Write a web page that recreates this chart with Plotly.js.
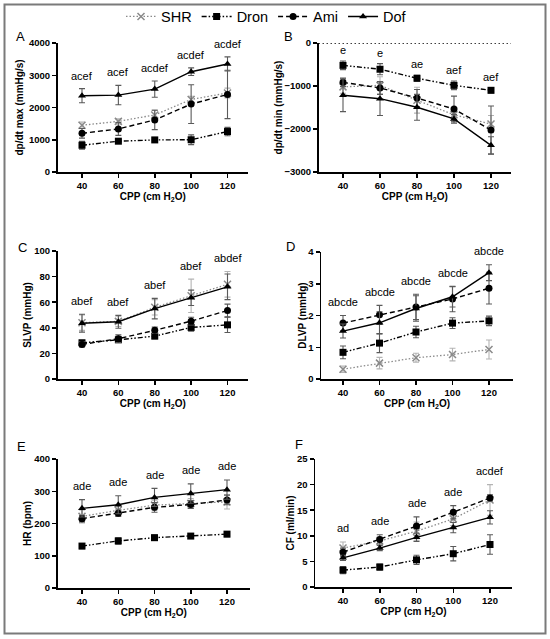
<!DOCTYPE html>
<html>
<head>
<meta charset="utf-8">
<script src="https://cdn.plot.ly/plotly-3.0.1.min.js"></script>
<style>html,body{margin:0;padding:0;background:#fff;}#chart{width:550px;height:639px;}</style>
</head>
<body>
<div id="chart"></div>
<script>
// ---------------- DATA ----------------
const cpp = [40, 60, 80, 100, 120];
const seriesNames = ['SHR', 'Dron', 'Ami', 'Dof'];

// A: dp/dt max (mmHg/s)
const maxSHR = [1450, 1570, 1770, 2250, 2450];
const maxSHRErr = [100, 80, 150, 100, 150];
const maxDron = [830, 955, 995, 1000, 1255];
const maxDronErr = [120, 50, 60, 150, 130];
const maxAmi = [1200, 1335, 1615, 2105, 2405];
const maxAmiErr = [150, 200, 300, 600, 750];
const maxDof = [2365, 2385, 2570, 3110, 3350];
const maxDofErr = [220, 300, 250, 120, 220];
const maxSig = ['acef', 'acef', 'acdef', 'acdef', 'acdef'];

// B: dp/dt min (mmHg/s)
const minSHR = [-1020, -985, -1330, -1670, -1885];
const minSHRErr = [150, 200, 300, 150, 200];
const minDron = [-520, -610, -820, -985, -1100];
const minDronErr = [100, 130, 70, 100, 60];
const minAmi = [-915, -1045, -1280, -1535, -2025];
const minAmiErr = [100, 150, 200, 300, 560];
const minDof = [-1215, -1295, -1495, -1765, -2380];
const minDofErr = [380, 390, 300, 100, 200];
const minSig = ['e', 'e', 'ae', 'aef', 'aef'];

// C: SLVP (mmHg)
const slvpSHR = [44, 45, 56, 65, 74];
const slvpSHRErr = [6, 4, 6, 13, 10];
const slvpDron = [28.3, 30.6, 33.5, 40.3, 42.3];
const slvpDronErr = [2, 2, 2, 3, 6];
const slvpAmi = [27, 31.5, 38, 45.2, 53.5];
const slvpAmiErr = [2, 3, 2.5, 3, 5];
const slvpDof = [43.6, 44.7, 55, 63.4, 72];
const slvpDofErr = [7, 5, 8, 6, 10];
const slvpSig = ['abef', 'abef', 'abef', 'abef', 'abdef'];

// D: DLVP (mmHg)
const dlvpSHR = [0.31, 0.50, 0.67, 0.77, 0.93];
const dlvpSHRErr = [0.1, 0.18, 0.14, 0.2, 0.3];
const dlvpDron = [0.84, 1.13, 1.48, 1.76, 1.83];
const dlvpDronErr = [0.2, 0.3, 0.18, 0.17, 0.15];
const dlvpAmi = [1.76, 2.02, 2.27, 2.52, 2.86];
const dlvpAmiErr = [0.24, 0.3, 0.4, 0.4, 0.5];
const dlvpDof = [1.51, 1.77, 2.22, 2.59, 3.35];
const dlvpDofErr = [0.22, 0.35, 0.4, 0.32, 0.25];
const dlvpSig = ['abcde', 'abcde', 'abcde', 'abcde', 'abcde'];

// E: HR (bpm)
const hrSHR = [222, 241, 257, 262, 267];
const hrSHRErr = [20, 15, 15, 15, 22];
const hrDron = [130, 146, 156, 161, 167];
const hrDronErr = [8, 10, 8, 6, 8];
const hrAmi = [215, 232, 250, 259, 273];
const hrAmiErr = [10, 10, 15, 12, 15];
const hrDof = [247, 258, 281, 293, 305];
const hrDofErr = [27, 28, 28, 30, 30];
const hrSig = ['ade', 'ade', 'ade', 'ade', 'ade'];

// F: CF (ml/min)
const cfSHR = [7.6, 9.0, 10.9, 13.3, 17.0];
const cfSHRErr = [1.2, 0.8, 1.8, 1.3, 3.0];
const cfDron = [3.3, 3.9, 5.3, 6.5, 8.3];
const cfDronErr = [0.7, 0.6, 0.9, 1.4, 1.9];
const cfAmi = [6.8, 9.3, 11.9, 14.6, 17.4];
const cfAmiErr = [0.8, 0.9, 1.8, 1.3, 0.6];
const cfDof = [5.7, 7.6, 9.7, 11.6, 13.6];
const cfDofErr = [0.5, 0.5, 0.8, 1.0, 1.3];
const cfSig = ['ad', 'ade', 'ade', 'ade', 'acdef'];

// ---------------- STYLE / LAYOUT ----------------
const FONT = 'Arial, "Liberation Sans", Helvetica, sans-serif';
const BLACK = 'rgb(0,0,0)';
const W = 550, H = 639;
const px = v => v / W;
const py = v => 1 - v / H;

const seriesStyle = [
  {color: '#8a8a8a', err: '#b4b4b4', symbol: 'x-thin', size: 7, dash: '1.5px,2px', lw: 1.3},
  {color: BLACK, err: '#5a5a5a', symbol: 'square', size: 7, dash: '5px,2px,1.5px,2px,1.5px,2px', lw: 1.4},
  {color: BLACK, err: '#5a5a5a', symbol: 'circle', size: 7, dash: '5px,3px', lw: 1.4},
  {color: BLACK, err: '#5a5a5a', symbol: 'triangle-up', size: 7, dash: 'solid', lw: 1.4}
];

const panels = [
  {letter: 'A', means: [maxSHR, maxDron, maxAmi, maxDof], errs: [maxSHRErr, maxDronErr, maxAmiErr, maxDofErr],
   sig: maxSig, yRange: [0, 4000], dtick: 1000, ytitle: 'dp/dt max (mmHg/s)'},
  {letter: 'B', means: [minSHR, minDron, minAmi, minDof], errs: [minSHRErr, minDronErr, minAmiErr, minDofErr],
   sig: minSig, yRange: [-3000, 0], dtick: 1000, ytitle: 'dp/dt min (mmHg/s)'},
  {letter: 'C', means: [slvpSHR, slvpDron, slvpAmi, slvpDof], errs: [slvpSHRErr, slvpDronErr, slvpAmiErr, slvpDofErr],
   sig: slvpSig, yRange: [0, 100], dtick: 20, ytitle: 'SLVP (mmHg)'},
  {letter: 'D', means: [dlvpSHR, dlvpDron, dlvpAmi, dlvpDof], errs: [dlvpSHRErr, dlvpDronErr, dlvpAmiErr, dlvpDofErr],
   sig: dlvpSig, yRange: [0, 4], dtick: 1, ytitle: 'DLVP (mmHg)'},
  {letter: 'E', means: [hrSHR, hrDron, hrAmi, hrDof], errs: [hrSHRErr, hrDronErr, hrAmiErr, hrDofErr],
   sig: hrSig, yRange: [0, 400], dtick: 100, ytitle: 'HR (bpm)'},
  {letter: 'F', means: [cfSHR, cfDron, cfAmi, cfDof], errs: [cfSHRErr, cfDronErr, cfAmiErr, cfDofErr],
   sig: cfSig, yRange: [0, 25], dtick: 5, ytitle: 'CF (ml/min)'}
];

// pixel geometry of each panel
const geo = [
  {l: 57.5, r: 248, t: 43, b: 172, x40: 82, x120: 227.5, lx: 20, ly: 37, st: 3, sigShift: 13},
  {l: 318.5, r: 511, t: 43, b: 172, x40: 343, x120: 491, lx: 288, ly: 37, st: 0, sigShift: 11},
  {l: 57.5, r: 248, t: 251, b: 379, x40: 82, x120: 227.5, lx: 22, ly: 247, st: 0, sigShift: 13.5},
  {l: 321, r: 513, t: 252, b: 379, x40: 343, x120: 489, lx: 290, ly: 246, st: 0, sigShift: 13.5},
  {l: 57.5, r: 250, t: 459, b: 588, x40: 82, x120: 227, lx: 21, ly: 446, st: 0, sigShift: 13.5},
  {l: 315, r: 512, t: 459, b: 587, x40: 343, x120: 490, lx: 299, ly: 445, st: 0, sigShift: 13.5}
];

const tickFont = {family: FONT, size: 9.5, color: BLACK, weight: 'bold'};
const titleFont = {family: FONT, size: 10, color: BLACK, weight: 'bold'};

const traces = [];
const layout = {
  width: W, height: H,
  margin: {l: 0, r: 0, t: 0, b: 0, pad: 0},
  paper_bgcolor: '#ffffff', plot_bgcolor: 'rgba(0,0,0,0)',
  font: {family: FONT, color: BLACK},
  showlegend: true,
  legend: {
    orientation: 'h', x: px(121), xanchor: 'left', y: py(16.5), yanchor: 'middle',
    font: {family: FONT, size: 14.5, color: BLACK},
    itemwidth: 30,
    bgcolor: 'rgba(0,0,0,0)', borderwidth: 0, traceorder: 'normal'
  },
  annotations: [],
  shapes: [
    {type: 'rect', xref: 'paper', yref: 'paper', x0: px(4.5), x1: px(545.5), y0: py(633.5), y1: py(4.5),
     line: {color: '#7a7a7a', width: 2}, layer: 'below'}
  ]
};

panels.forEach((p, i) => {
  const g = geo[i];
  const n = i + 1;
  const xa = n === 1 ? 'xaxis' : 'xaxis' + n;
  const ya = n === 1 ? 'yaxis' : 'yaxis' + n;
  const xr = n === 1 ? 'x' : 'x' + n;
  const yr = n === 1 ? 'y' : 'y' + n;
  const unit = (g.x120 - g.x40) / 80;
  const xRange = [40 + (g.l - g.x40) / unit, 40 + (g.r - g.x40) / unit];

  layout[xa] = {
    domain: [px(g.l), px(g.r)], anchor: yr, range: xRange, tickvals: cpp,
    ticks: 'outside', ticklen: 4, tickwidth: 1.5, tickcolor: BLACK,
    showline: true, linewidth: 1.5, linecolor: BLACK, showgrid: false, zeroline: false,
    tickfont: tickFont, automargin: false, fixedrange: true,
    title: {text: 'CPP (cm H<sub>2</sub>O)', font: titleFont, standoff: 3}
  };
  const tv = [];
  for (let v = p.yRange[0]; v <= p.yRange[1] + 1e-9; v += p.dtick) tv.push(v);
  layout[ya] = {
    domain: [py(g.b), py(g.t)], anchor: xr, range: p.yRange, tickvals: tv,
    ticks: 'outside', ticklen: 4, tickwidth: 1.5, tickcolor: BLACK,
    showline: true, linewidth: 1.5, linecolor: BLACK, showgrid: false, zeroline: false,
    tickfont: tickFont, automargin: false, fixedrange: true,
    title: {text: p.ytitle, font: titleFont, standoff: g.st}
  };

  p.means.forEach((m, s) => {
    const st = seriesStyle[s];
    const isX = st.symbol === 'x-thin';
    traces.push({
      type: 'scatter', mode: 'lines+markers', x: cpp, y: m, xaxis: xr, yaxis: yr,
      name: seriesNames[s], legendgroup: seriesNames[s], showlegend: i === 0,
      line: {color: st.color, width: st.lw, dash: st.dash},
      marker: {symbol: st.symbol, size: st.size, color: st.color,
               line: {color: st.color, width: isX ? 1.5 : 0}},
      error_y: {type: 'data', array: p.errs[s], visible: true, color: st.err, thickness: 1.1, width: 3},
      cliponaxis: false
    });
  });

  // significance labels above the highest error bar
  cpp.forEach((c, k) => {
    let top = -Infinity;
    p.means.forEach((m, s) => { top = Math.max(top, m[k] + p.errs[s][k]); });
    layout.annotations.push({
      x: c, y: top, xref: xr, yref: yr, text: p.sig[k], showarrow: false,
      yanchor: 'middle', yshift: g.sigShift, font: {family: FONT, size: 11, color: BLACK}
    });
  });

  // panel letter
  layout.annotations.push({
    x: px(g.lx), y: py(g.ly), xref: 'paper', yref: 'paper', text: p.letter, showarrow: false,
    xanchor: 'center', yanchor: 'middle', font: {family: FONT, size: 13, color: BLACK}
  });
});

// dotted zero line in panel B
layout.shapes.push({
  type: 'line', xref: 'x2', yref: 'y2', x0: layout.xaxis2.range[0], x1: layout.xaxis2.range[1], y0: 0, y1: 0,
  line: {color: BLACK, width: 1.3, dash: '1.5px,2.5px'}, layer: 'above'
});

Plotly.newPlot('chart', traces, layout, {displayModeBar: false, staticPlot: true});
</script>
</body>
</html>
